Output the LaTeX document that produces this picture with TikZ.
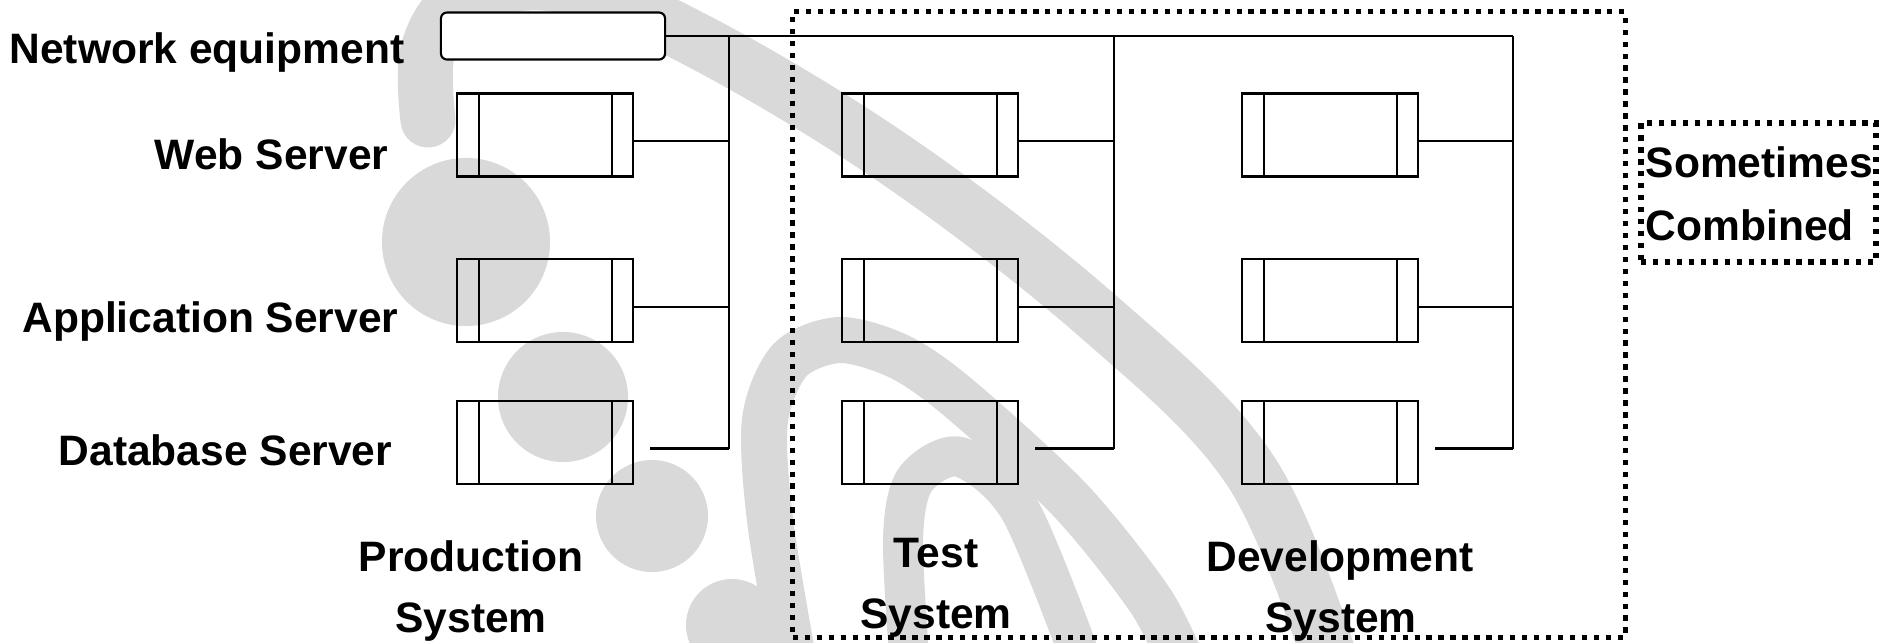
\documentclass[tikz,border=0pt]{standalone}
\usepackage{fontspec}
\setmainfont{Liberation Sans}
\definecolor{wmgray}{RGB}{217,217,217}
\begin{document}
\begin{tikzpicture}[x=0.01cm,y=-0.01cm,
  conn/.style={draw, line width=0.6pt},
  server/.style={draw, line width=0.6pt, minimum width=1.76cm, minimum height=0.83cm, inner sep=0pt,
    path picture={\draw[line width=0.6pt]
      ([xshift=0.22cm]path picture bounding box.north west) -- ([xshift=0.22cm]path picture bounding box.south west)
      ([xshift=-0.21cm]path picture bounding box.north east) -- ([xshift=-0.21cm]path picture bounding box.south east);}},
  dotbox/.style={draw, line width=1.5pt, dash pattern=on 1.5pt off 1.9pt, inner sep=0pt},
  lbl/.style={inner sep=0pt, font=\fontsize{12.1pt}{14pt}\selectfont\bfseries},
  wm/.style={draw=wmgray, line cap=round}
]
\useasboundingbox (0,0) rectangle (1879,642);
% watermark
\begin{scope}
  \clip (0,0) rectangle (1879,642);
  \fill[wmgray] (466,242) circle[radius=0.84cm];
  \fill[wmgray] (563,397) circle[radius=0.65cm];
  \fill[wmgray] (652,516) circle[radius=0.56cm];
  \fill[wmgray] (732,625) circle[radius=0.46cm];
  \draw[wm, line width=0.55cm] plot[smooth, tension=0.6] coordinates {(428,120) (428,50) (465,0) (560,-15) (700,42) (900,163) (1100,318) (1250,470) (1330,660)};
  \draw[wm, line width=0.46cm] plot[smooth] coordinates {(795,670) (770,520) (765,420) (790,360) (840,340) (900,357) (960,399) (1070,500) (1150,600) (1185,670)};
  \draw[wm, line width=0.4cm] plot[smooth] coordinates {(910,670) (903,540) (915,480) (960,457) (1020,510) (1085,670)};
\end{scope}

% dotted groups
\node[dotbox, minimum width=8.32cm, minimum height=6.25cm] (shared) at (1209,324.5) {};
\node[dotbox, minimum width=2.35cm, minimum height=1.39cm] (comb) at (1758.5,192.5) {};

% network equipment
\node[draw, line width=0.6pt, rounded corners=0.06cm, fill=white, minimum width=2.24cm, minimum height=0.47cm, inner sep=0pt] (net) at (553,36) {};

% servers
\node[server] (p1) at (545,135) {};
\node[server] (p2) at (545,300.5) {};
\node[server] (p3) at (545,442.5) {};
\node[server] (t1) at (930,135) {};
\node[server] (t2) at (930,300.5) {};
\node[server] (t3) at (930,442.5) {};
\node[server] (d1) at (1330,135) {};
\node[server] (d2) at (1330,300.5) {};
\node[server] (d3) at (1330,442.5) {};

% buses
\coordinate (busP) at (729,36);
\coordinate (busT) at (1114,36);
\coordinate (busD) at (1513,36);
\draw[conn] (net.east) -- (busD);
\foreach \s/\b in {p/busP, t/busT, d/busD}{
  \draw[conn] (\b) -- ([yshift=-0.06cm]\s3.east -| \b);
  \draw[conn] ([yshift=-0.06cm]\s1.east) -- ([yshift=-0.06cm]\s1.east -| \b);
  \draw[conn] ([yshift=-0.065cm]\s2.east) -- ([yshift=-0.065cm]\s2.east -| \b);
  \draw[conn] ([xshift=0.16cm,yshift=-0.06cm]\s3.east) -- ([yshift=-0.06cm]\s3.east -| \b);
}

% labels
\node[lbl, anchor=base east] (lnet) at (405,63) {Network equipment};
\node[lbl, anchor=base east] (lweb) at (389,169) {Web Server};
\node[lbl, anchor=base east] (lapp) at (399,332) {Application Server};
\node[lbl, anchor=base east] (ldb) at (393,465) {Database Server};
\node[lbl, anchor=base] (lprod1) at (471,571) {Production};
\node[lbl, anchor=base] (lprod2) at (471,632) {System};
\node[lbl, anchor=base] (ltest1) at (936,567) {Test};
\node[lbl, anchor=base] (ltest2) at (936,628) {System};
\node[lbl, anchor=base] (ldev1) at (1340,571) {Development};
\node[lbl, anchor=base] (ldev2) at (1341,632) {System};
\node[lbl, anchor=base west] (lsom) at (1645,177) {Sometimes};
\node[lbl, anchor=base west] (lcomb) at (1645,240) {Combined};
\end{tikzpicture}
\end{document}
